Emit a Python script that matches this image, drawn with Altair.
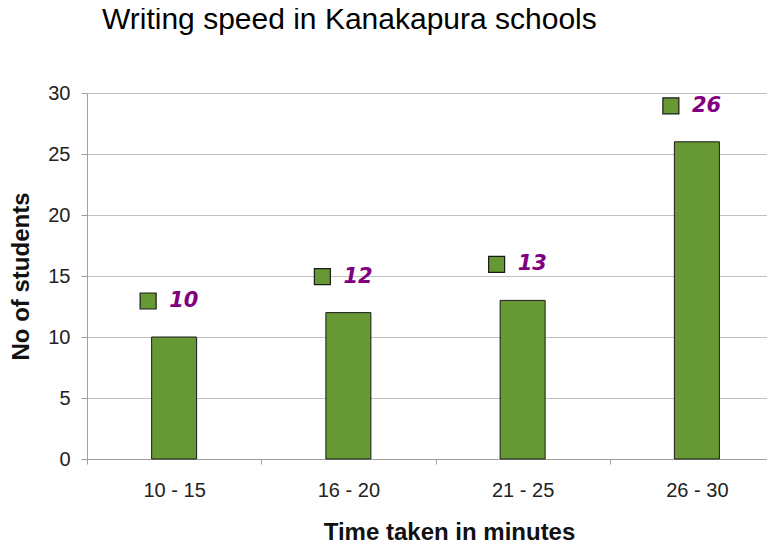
import altair as alt
import pandas as pd

categories = ["10 - 15", "16 - 20", "21 - 25", "26 - 30"]
students = [10, 12, 13, 26]
y_ticks = [0, 5, 10, 15, 20, 25, 30]
title_text = "Writing speed in Kanakapura schools"
x_title = "Time taken in minutes"
y_title = "No of students"

df = pd.DataFrame({"range": categories, "students": students})

FONT = "Liberation Sans"
GREEN = "#669933"
PURPLE = "#800080"

x_enc = alt.X(
    "range:N",
    sort=categories,
    scale=alt.Scale(paddingInner=0, paddingOuter=0),
    axis=alt.Axis(
        title=x_title,
        labelAngle=0,
        tickBand="extent",
        tickSize=5,
        labelPadding=16,
        labelFont=FONT,
        labelFontSize=20,
        labelColor="#222222",
        domainColor="#a0a0a0",
        tickColor="#a0a0a0",
        grid=False,
        titleFont=FONT,
        titleFontSize=24,
        titleFontWeight="bold",
        titleColor="#111111",
        titleX=362,
        titleY=80,
        titleBaseline="alphabetic",
        titleAlign="center",
    ),
)

y_enc = alt.Y(
    "students:Q",
    scale=alt.Scale(domain=[0, 30], nice=False),
    axis=alt.Axis(
        title=y_title,
        values=y_ticks,
        tickSize=6,
        labelPadding=11,
        labelFont=FONT,
        labelFontSize=20,
        labelColor="#222222",
        domainColor="#a0a0a0",
        tickColor="#a0a0a0",
        gridColor="#c0c0c0",
        titleFont=FONT,
        titleFontSize=24,
        titleFontWeight="bold",
        titleColor="#111111",
        titleX=-66,
        titleY=183,
        titleAngle=-90,
        titleAlign="center",
        titleBaseline="middle",
    ),
)

base = alt.Chart(df)

bars = base.mark_bar(size=45, fill=GREEN, stroke="#1a1a1a", strokeWidth=1).encode(
    x=x_enc, y=y_enc
)

squares = base.mark_square(
    size=256, fill=GREEN, stroke="#1a1a1a", strokeWidth=1.2, opacity=1,
    xOffset=-26, yOffset=-36,
).encode(x=alt.X("range:N", sort=categories), y="students:Q")

labels = base.mark_text(
    align="left", baseline="middle", dx=-5, dy=-36,
    font="DejaVu Sans", fontSize=21, fontStyle="italic", fontWeight="bold",
    color=PURPLE,
).encode(x=alt.X("range:N", sort=categories), y="students:Q", text="students:Q")

chart = (
    alt.layer(bars, squares, labels)
    .properties(
        width=697,
        height=366,
        autosize=alt.AutoSizeParams(type="none"),
        padding={"left": 79, "top": 85, "right": -17, "bottom": 85},
        title=alt.TitleParams(
            title_text,
            anchor="start",
            frame="group",
            font=FONT,
            fontSize=30,
            fontWeight="normal",
            color="#000000",
            dx=15,
            offset=24,
            baseline="alphabetic",
        ),
    )
    .configure_view(stroke=None)
)

chart.save("out.html", embed_options={"renderer": "svg", "actions": False})
